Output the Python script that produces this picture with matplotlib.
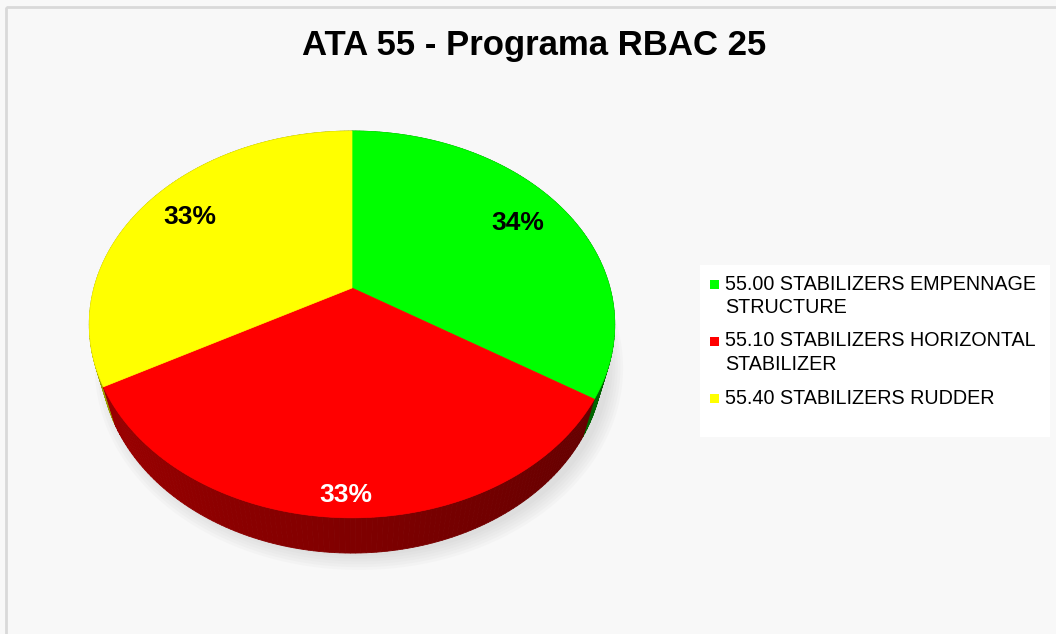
import numpy as np
import matplotlib
matplotlib.use('Agg')
import matplotlib.pyplot as plt
from matplotlib.patches import Polygon, Rectangle

# dados do grafico
labels = [['55.00 STABILIZERS EMPENNAGE', 'STRUCTURE'],
          ['55.10 STABILIZERS HORIZONTAL', 'STABILIZER'],
          ['55.40 STABILIZERS RUDDER']]
values = [34, 33, 33]
pct_text = ['34%', '33%', '33%']
colors = [(0.0, 1.0, 0.0), (1.0, 0.0, 0.0), (1.0, 1.0, 0.0)]
label_colors = ['black', 'white', 'black']
label_radius = [0.77, 0.92, 0.8]

plt.rcParams['font.family'] = ['Liberation Sans', 'DejaVu Sans']

fig = plt.figure(figsize=(10.56, 6.34), dpi=100)
fig.patch.set_facecolor('#f8f8f8')
ax = fig.add_axes([0, 0, 1, 1])
ax.set_xlim(0, 1056)
ax.set_ylim(634, 0)
ax.axis('off')

# borda do grafico
ax.add_patch(Rectangle((5.5, 6.5), 1100, 700, fill=False, edgecolor='#d9d9d9', lw=2))

# projecao em perspectiva do disco (pizza 3D)
alpha = np.radians(46.3)
s, c = np.sin(alpha), np.cos(alpha)
D = 3.67
t = 0.227          # espessura
cx, cy, S = 352, 288, 947


def proj(phi, r, Y):
    X = r * np.sin(phi)
    Z = -r * np.cos(phi)
    depth = -Y * s + D - Z * c
    up = Y * c - Z * s
    return cx + S * X / depth, cy - S * up / depth


total = float(sum(values))
edges = np.concatenate([[0], np.cumsum(values)]) / total * 2 * np.pi

# sombra
for k in range(6):
    phis = np.linspace(0, 2 * np.pi, 200)
    bx, by = proj(phis, 1.0 + 0.01 * k, -t)
    ax.add_patch(Polygon(np.column_stack([bx + 7, by + 3]), closed=True,
                         facecolor='#808080', edgecolor='none', alpha=0.035, zorder=1))

# lateral
quads = []
for i, col in enumerate(colors):
    ph = np.linspace(edges[i], edges[i + 1], 120)
    for a0, a1 in zip(ph[:-1], ph[1:]):
        x0, y0 = proj(a0, 1, 0)
        x1, y1 = proj(a1, 1, 0)
        x2, y2 = proj(a1, 1, -t)
        x3, y3 = proj(a0, 1, -t)
        am = 0.5 * (a0 + a1)
        f = 0.5 - 0.12 * np.sin(am)
        sc = tuple(ch * f for ch in col)
        depth = np.cos(am)
        quads.append((depth, [(x0, y0), (x1, y1), (x2, y2), (x3, y3)], sc))
quads.sort(key=lambda q: q[0], reverse=True)
for _, pts, sc in quads:
    ax.add_patch(Polygon(pts, closed=True, facecolor=sc, edgecolor=sc, lw=0.6, zorder=2))

# topo
for i, col in enumerate(colors):
    ph = np.linspace(edges[i], edges[i + 1], 200)
    px, py = proj(ph, 1, 0)
    pts = [(cx, cy)] + list(zip(px, py))
    ax.add_patch(Polygon(pts, closed=True, facecolor=col, edgecolor=col, lw=0.5, zorder=3))

# rotulos de porcentagem
for i in range(len(values)):
    mid = 0.5 * (edges[i] + edges[i + 1])
    lx, ly = proj(mid, label_radius[i], 0)
    ax.text(lx + 3, ly, pct_text[i], ha='center', va='center', fontsize=19,
            fontweight='bold', color=label_colors[i], zorder=5)

# titulo
ax.text(534, 46, 'ATA 55 - Programa RBAC 25', ha='center', va='center',
        fontsize=25, fontweight='bold', color='black')

# legenda
ax.add_patch(Rectangle((700, 265), 350, 172, facecolor='white', edgecolor='none', zorder=4))
y = 284
for i, lines in enumerate(labels):
    ax.add_patch(Rectangle((710, y - 4.5), 9, 9, facecolor=colors[i],
                           edgecolor='none', zorder=5))
    for j, ln in enumerate(lines):
        ax.text(725, y + j * 23.5, ln, ha='left', va='center', fontsize=14.2,
                color='black', zorder=5)
    y += 23.5 * len(lines) + 10

fig.savefig('out.png', dpi=100, facecolor=fig.get_facecolor())
